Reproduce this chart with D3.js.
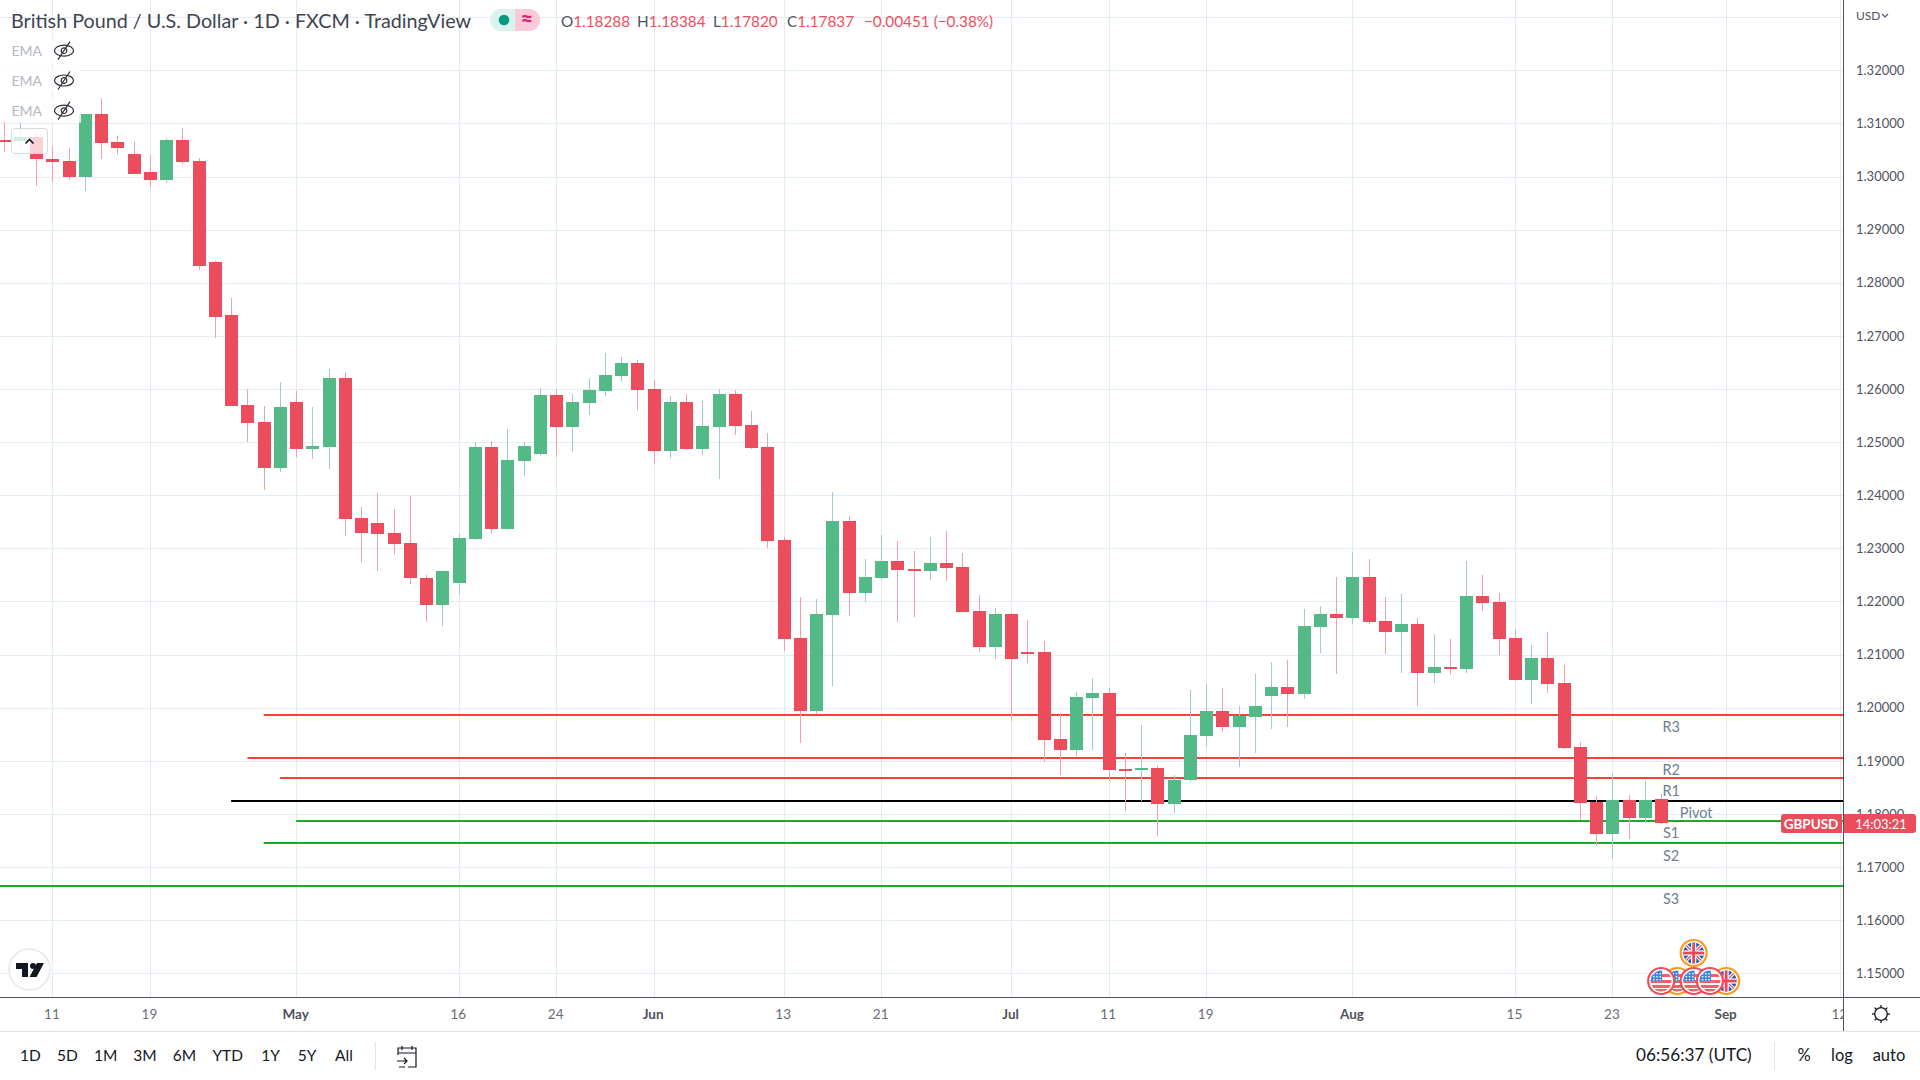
<!DOCTYPE html>
<html><head><meta charset="utf-8">
<style>html,body{margin:0;padding:0;background:#fff;overflow:hidden}svg{display:block}
text{font-family:Lato,"Open Sans",sans-serif}</style>
<script src="https://cdnjs.cloudflare.com/ajax/libs/d3/7.8.5/d3.min.js"></script></head><body>
<script>
const dates=["Apr 6","Apr 7","Apr 8","Apr 11","Apr 12","Apr 13","Apr 14","Apr 15","Apr 18","Apr 19","Apr 20","Apr 21","Apr 22","Apr 25","Apr 26","Apr 27","Apr 28","Apr 29",
"May 2","May 3","May 4","May 5","May 6","May 9","May 10","May 11","May 12","May 13","May 16","May 17","May 18","May 19","May 20","May 23","May 24","May 25","May 26","May 27","May 30","May 31",
"Jun 1","Jun 2","Jun 3","Jun 6","Jun 7","Jun 8","Jun 9","Jun 10","Jun 13","Jun 14","Jun 15","Jun 16","Jun 17","Jun 20","Jun 21","Jun 22","Jun 23","Jun 24","Jun 27","Jun 28","Jun 29","Jun 30",
"Jul 1","Jul 4","Jul 5","Jul 6","Jul 7","Jul 8","Jul 11","Jul 12","Jul 13","Jul 14","Jul 15","Jul 18","Jul 19","Jul 20","Jul 21","Jul 22","Jul 25","Jul 26","Jul 27","Jul 28","Jul 29",
"Aug 1","Aug 2","Aug 3","Aug 4","Aug 5","Aug 8","Aug 9","Aug 10","Aug 11","Aug 12","Aug 15","Aug 16","Aug 17","Aug 18","Aug 19","Aug 22","Aug 23","Aug 24","Aug 25","Aug 26"];
const opens=[1.30695,1.30669,1.30742,1.30325,1.30291,1.29987,1.31179,1.30649,1.30424,1.30080,1.29927,1.30682,1.30291,1.28384,1.27384,1.25702,1.25377,1.24510,
1.25755,1.24868,1.24907,1.26212,1.23570,1.23470,1.23285,1.23093,1.22450,1.21940,1.22346,1.23176,1.24912,1.23365,1.24648,1.24780,1.25893,1.25289,1.25742,1.25969,1.26252,1.26497,
1.26006,1.24836,1.25761,1.24874,1.25289,1.25912,1.25327,1.24912,1.23157,1.21308,1.19931,1.21742,1.23516,1.22157,1.22440,1.22761,1.22610,1.22572,1.22723,1.22648,1.21818,1.21138,
1.21760,1.21044,1.21044,1.19403,1.19195,1.20176,1.20270,1.18855,1.18818,1.18874,1.18195,1.18648,1.19459,1.19931,1.19629,1.19818,1.20214,1.20384,1.20252,1.21516,1.21761,
1.21686,1.22459,1.21629,1.21421,1.21572,1.20648,1.20761,1.20723,1.22100,1.21987,1.21308,1.20516,1.20931,1.20459,1.19252,1.18233,1.17629,1.18270,1.17931,1.18288];
const highs=[1.31080,1.31053,1.30834,1.30570,1.30536,1.31180,1.31477,1.30762,1.30649,1.30404,1.30722,1.30914,1.30344,1.28417,1.27722,1.26000,1.25682,1.26132,
1.25967,1.25662,1.26377,1.26325,1.23775,1.24040,1.23735,1.23980,1.22490,1.22583,1.23272,1.24987,1.25025,1.25252,1.25006,1.26025,1.26000,1.25912,1.26214,1.26686,1.26610,1.26553,
1.26176,1.25874,1.25912,1.25780,1.26000,1.25987,1.25591,1.25176,1.23214,1.22082,1.22044,1.24063,1.23610,1.22799,1.23252,1.23138,1.22950,1.23214,1.23327,1.22912,1.22119,1.21874,
1.21780,1.21648,1.21252,1.19893,1.20289,1.20553,1.20365,1.19138,1.19667,1.18912,1.18742,1.20327,1.20440,1.20365,1.20025,1.20629,1.20855,1.20893,1.21855,1.21912,1.22459,
1.22931,1.22799,1.22082,1.22138,1.21686,1.21384,1.21289,1.22761,1.22497,1.22157,1.21478,1.21176,1.21421,1.20799,1.19346,1.18346,1.18780,1.18365,1.18629,1.18384];
const lows=[1.30457,1.30517,1.29821,1.29894,1.29927,1.29728,1.30325,1.30424,1.30046,1.29795,1.29874,1.30232,1.28232,1.26967,1.25682,1.25000,1.24099,1.24437,
1.24722,1.24682,1.24490,1.23225,1.22735,1.22583,1.22887,1.22338,1.21623,1.21530,1.22132,1.23157,1.23290,1.23346,1.24365,1.24742,1.24723,1.24818,1.25516,1.25874,1.26138,1.25610,
1.24591,1.24704,1.24855,1.24761,1.24308,1.25138,1.24874,1.23006,1.21063,1.19327,1.19874,1.20403,1.21723,1.21987,1.22403,1.21610,1.21704,1.22403,1.22384,1.21799,1.21044,1.20912,
1.19742,1.20836,1.18975,1.18742,1.19082,1.19195,1.18629,1.18063,1.18252,1.17591,1.18025,1.18610,1.19252,1.19535,1.18893,1.19138,1.19591,1.19629,1.20157,1.21025,1.20629,
1.21572,1.21572,1.21006,1.20648,1.20025,1.20459,1.20629,1.20648,1.21818,1.20987,1.20497,1.20063,1.20270,1.19214,1.17893,1.17403,1.17157,1.17535,1.17836,1.17820];
const closes=[1.30669,1.30740,1.30325,1.30272,1.29987,1.31179,1.30629,1.30536,1.30053,1.29927,1.30682,1.30272,1.28311,1.27364,1.25682,1.25358,1.24510,1.25662,
1.24868,1.24927,1.26212,1.23550,1.23285,1.23265,1.23080,1.22437,1.21940,1.22583,1.23195,1.24912,1.23365,1.24667,1.24931,1.25893,1.25289,1.25761,1.25987,1.26270,1.26497,1.25987,
1.24836,1.25761,1.24874,1.25308,1.25912,1.25308,1.24893,1.23138,1.21289,1.19931,1.21760,1.23516,1.22157,1.22459,1.22761,1.22591,1.22572,1.22723,1.22629,1.21799,1.21138,1.21760,
1.20912,1.21025,1.19384,1.19195,1.20195,1.20270,1.18836,1.18818,1.18874,1.18195,1.18648,1.19478,1.19931,1.19629,1.19836,1.20025,1.20384,1.20252,1.21535,1.21761,1.21686,
1.22459,1.21610,1.21421,1.21572,1.20648,1.20761,1.20723,1.22100,1.21969,1.21289,1.20516,1.20931,1.20440,1.19233,1.18214,1.17629,1.18270,1.17931,1.18270,1.17837];
const priceTicks=[1.15,1.16,1.17,1.18,1.19,1.20,1.21,1.22,1.23,1.24,1.25,1.26,1.27,1.28,1.29,1.30,1.31,1.32];
const priceGridExtra=[1.33];
const timeTickIdx=[3,9,18,28,34,40,48,54,62,68,74,83,93,99,106,113];
const timeTickLabels=["11","19","May","16","24","Jun","13","21","Jul","11","19","Aug","15","23","Sep","12"];
const monthLabels=["May","Jun","Jul","Aug","Sep"];
const levelNames=["R3","R2","R1","Pivot","S1","S2","S3"];
const levelValues=[1.19863,1.19053,1.18676,1.18244,1.17867,1.17453,1.16643];
const levelStartIdx=[16,15,17,14,18,16,-1];
const rangeButtons=["1D","5D","1M","3M","6M","YTD","1Y","5Y","All"];
const eventIdxRow1=[104];
const eventFlagRow1=["uk"];
const eventRingRow1=["orange"];
const eventIdxRow2=[102,103,104,105,106];
const eventFlagRow2=["us","us","us","us","uk"];
const eventRingRow2=["red","orange","red","red","orange"];

const W=1920,H=1080,axisX=1843,axisY=997,timeBottom=1031;
const GRID="#e3ecf2",UP="#53b987",DOWN="#eb4d5c",UPW="#a3c9cc",DOWNW="#f59fae";
const x=d3.scaleLinear().domain([3,99]).range([52.4,1612.4]);
const y=d3.scaleLinear().domain([1.15,1.32]).range([973.3,70.3]);
const px=v=>Math.round(v);
const svg=d3.select("body").append("svg").attr("width",W).attr("height",H);
svg.append("defs").append("clipPath").attr("id","pane").append("rect").attr("width",axisX).attr("height",axisY);
const pane=svg.append("g").attr("clip-path","url(#pane)");
const candlesData=dates.map((d,i)=>({d,i,o:opens[i],h:highs[i],l:lows[i],c:closes[i]}));

// grid
pane.append("g").selectAll("line").data(priceTicks.concat(priceGridExtra)).join("line")
 .attr("x1",0).attr("x2",axisX).attr("y1",d=>px(y(d))+.5).attr("y2",d=>px(y(d))+.5).attr("stroke",GRID);
pane.append("g").selectAll("line").data(timeTickIdx).join("line")
 .attr("x1",d=>px(x(d))+.5).attr("x2",d=>px(x(d))+.5).attr("y1",0).attr("y2",axisY).attr("stroke",GRID);

// pivot levels
const levelColor=n=>n[0]=="R"?"#f44336":n[0]=="S"?"#1aab2b":"#000";
pane.append("g").selectAll("line").data(levelNames).join("line")
 .attr("x1",(d,i)=>levelStartIdx[i]<0?0:x(levelStartIdx[i])).attr("x2",axisX)
 .attr("y1",(d,i)=>px(y(levelValues[i]))).attr("y2",(d,i)=>px(y(levelValues[i])))
 .attr("stroke",levelColor).attr("stroke-width",2);

// candles
const cg=pane.append("g").attr("shape-rendering","crispEdges");
cg.selectAll(".wick").data(candlesData).join("line").attr("class","wick")
 .attr("x1",d=>px(x(d.i))+.5).attr("x2",d=>px(x(d.i))+.5).attr("y1",d=>y(d.h)).attr("y2",d=>y(d.l))
 .attr("stroke",d=>d.c>=d.o?UPW:DOWNW);
cg.selectAll(".body").data(candlesData).join("rect").attr("class","body")
 .attr("x",d=>px(x(d.i))-6).attr("width",13)
 .attr("y",d=>px(y(Math.max(d.o,d.c))))
 .attr("height",d=>Math.max(2,px(y(Math.min(d.o,d.c)))-px(y(Math.max(d.o,d.c)))))
 .attr("fill",d=>d.c>=d.o?UP:DOWN);

// level labels
pane.append("g").selectAll("text").data(levelNames).join("text")
 .attr("x",d=>d=="Pivot"?x(102)+35:x(102)+10)
 .attr("text-anchor","middle")
 .attr("y",(d,i)=>y(levelValues[i])+(d=="S2"||d=="S3"?18:d=="S1"?17:d=="Pivot"?17:d=="R1"?17.5:16.7))
 .attr("fill","#6f808f").attr("font-size",14.5).text(d=>d);

// events
function flag(g,kind,ring,cx,cy,r,uid){
 const id="f"+uid;
 g.append("circle").attr("cx",cx).attr("cy",cy).attr("r",r-.5).attr("fill","#fff");
 g.append("clipPath").attr("id",id).append("circle").attr("cx",cx).attr("cy",cy).attr("r",r-3.5);
 const f=g.append("g").attr("clip-path",`url(#${id})`);
 if(kind=="us"){
  f.append("rect").attr("x",cx-r).attr("y",cy-r).attr("width",2*r).attr("height",2*r).attr("fill","#fff");
  [-7,-1,4,8].forEach(o=>f.append("rect").attr("x",cx-r).attr("y",cy+o).attr("width",2*r).attr("height",3).attr("fill","#f2606c"));
  f.append("rect").attr("x",cx-r).attr("y",cy-r).attr("width",r+1).attr("height",r).attr("fill","#3d86e0");
  d3.range(3).forEach(a=>d3.range(3).forEach(b=>f.append("rect").attr("x",cx-8+a*3.2).attr("y",cy-8+b*3).attr("width",1.4).attr("height",1.4).attr("fill","#fff")));
 }else{
  f.append("rect").attr("x",cx-r).attr("y",cy-r).attr("width",2*r).attr("height",2*r).attr("fill","#2a5aa8");
  [[-r,-r,r,r],[-r,r,r,-r]].forEach(a=>{f.append("line").attr("x1",cx+a[0]).attr("y1",cy+a[1]).attr("x2",cx+a[2]).attr("y2",cy+a[3]).attr("stroke","#fff").attr("stroke-width",3.5);
   f.append("line").attr("x1",cx+a[0]).attr("y1",cy+a[1]).attr("x2",cx+a[2]).attr("y2",cy+a[3]).attr("stroke","#e2495a").attr("stroke-width",1.3);});
  f.append("rect").attr("x",cx-2.6).attr("y",cy-r).attr("width",5.2).attr("height",2*r).attr("fill","#fff");
  f.append("rect").attr("x",cx-r).attr("y",cy-2.6).attr("width",2*r).attr("height",5.2).attr("fill","#fff");
  f.append("rect").attr("x",cx-1.4).attr("y",cy-r).attr("width",2.8).attr("height",2*r).attr("fill","#e2495a");
  f.append("rect").attr("x",cx-r).attr("y",cy-1.4).attr("width",2*r).attr("height",2.8).attr("fill","#e2495a");
 }
 g.append("circle").attr("cx",cx).attr("cy",cy).attr("r",r-1).attr("fill","none").attr("stroke",ring=="red"?"#ef4d5e":"#ff9a1f").attr("stroke-width",2.2);
}
const ev=pane.append("g");
eventIdxRow1.forEach((d,i)=>flag(ev,eventFlagRow1[i],eventRingRow1[i],x(d),953,14,"a"+i));
[4,1,2,3,0].forEach(j=>flag(ev,eventFlagRow2[j],eventRingRow2[j],x(eventIdxRow2[j]),981,14,"b"+j));

// right/bottom panel
svg.append("rect").attr("x",axisX).attr("y",0).attr("width",W-axisX).attr("height",timeBottom).attr("fill","#fff");
svg.append("rect").attr("x",0).attr("y",timeBottom).attr("width",W).attr("height",H-timeBottom).attr("fill","#fff");

// time axis
svg.append("clipPath").attr("id","tc").append("rect").attr("x",0).attr("y",axisY).attr("width",axisX).attr("height",40);
const xAxis=d3.axisBottom(x).tickValues(timeTickIdx).tickSize(0).tickPadding(12).tickFormat((d,i)=>timeTickLabels[i]);
const xg=svg.append("g").attr("clip-path","url(#tc)").append("g").attr("transform",`translate(-1,${axisY})`).call(xAxis);
xg.select(".domain").remove();
xg.selectAll("text").attr("font-family","Lato").attr("font-size",13.5).attr("fill",(d,i)=>monthLabels.includes(timeTickLabels[i])?"#50535e":"#6a6d78").attr("font-weight",(d,i)=>monthLabels.includes(timeTickLabels[i])?700:400).attr("dy","0.72em");

// price axis
const yAxis=d3.axisRight(y).tickValues(priceTicks).tickSize(0).tickPadding(0).tickFormat(d3.format(".5f"));
const yg=svg.append("g").attr("transform",`translate(${axisX+13},0)`).call(yAxis);
yg.select(".domain").remove();
yg.selectAll("text").attr("font-family","'Liberation Sans'").attr("font-size",13).attr("fill","#50535e");

// borders
svg.append("line").attr("x1",0).attr("x2",W).attr("y1",axisY+.5).attr("y2",axisY+.5).attr("stroke","#50535e");
svg.append("line").attr("x1",axisX+.5).attr("x2",axisX+.5).attr("y1",0).attr("y2",timeBottom).attr("stroke","#50535e");
svg.append("line").attr("x1",0).attr("x2",W).attr("y1",timeBottom+.5).attr("y2",timeBottom+.5).attr("stroke","#e0e3eb");

// last price label
svg.append("path").attr("d",`M1784 814h58v19h-58a3 3 0 0 1-3-3v-13a3 3 0 0 1 3-3z`).attr("fill",DOWN);
svg.append("path").attr("d",`M1844 814h69a3 3 0 0 1 3 3v13a3 3 0 0 1-3 3h-69z`).attr("fill",DOWN);
svg.append("text").attr("x",1811).attr("y",828.5).attr("text-anchor","middle").attr("fill","#fff").attr("font-size",13.5).attr("font-weight",700).text("GBPUSD");
svg.append("text").attr("x",1881).attr("y",828.5).attr("text-anchor","middle").attr("fill","#fff").attr("font-size",13).attr("font-family","'Liberation Sans'").text("14:03:21");

// USD
svg.append("text").attr("x",1856).attr("y",20).attr("fill","#50535e").attr("font-size",12).attr("font-family","'Liberation Sans'").text("USD");
svg.append("path").attr("d","M1882 14l3 3l3-3").attr("fill","none").attr("stroke","#50535e").attr("stroke-width",1.2);

// header
const hdr=svg.append("g");
hdr.append("text").attr("x",11).attr("y",27.5).attr("fill","#3f4450").attr("font-size",18.6).attr("textLength",460).attr("lengthAdjust","spacingAndGlyphs").text("British Pound / U.S. Dollar · 1D · FXCM · TradingView");
hdr.append("path").attr("d","M515 9h-14a11 11 0 0 0 0 22h14z").attr("fill","#dcf2ee");
hdr.append("path").attr("d","M515 9h14a11 11 0 0 1 0 22h-14z").attr("fill","#fcc9d9");
hdr.append("circle").attr("cx",504).attr("cy",20).attr("r",5.3).attr("fill","#089981");
hdr.append("text").attr("x",527).attr("y",27).attr("text-anchor","middle").attr("font-size",22).attr("font-weight",700).attr("fill","#cf2a6b").text("≈");
const ohlc=[["O","1.18288"],["H","1.18384"],["L","1.17820"],["C","1.17837"]];
const ohlcX=[561,637,713,787];
ohlc.forEach((p,i)=>{const t=hdr.append("text").attr("x",ohlcX[i]).attr("y",26.5).attr("font-size",15.3);
 t.append("tspan").attr("fill","#50535e").text(p[0]);t.append("tspan").attr("fill","#ee4f5f").text(p[1]);});
hdr.append("text").attr("x",864).attr("y",26.5).attr("font-size",15.3).attr("fill","#ee4f5f").text("−0.00451 (−0.38%)");

// EMA legend
[50.7,80.5,110.7].forEach(cy=>{
 hdr.append("rect").attr("x",0).attr("y",cy-12).attr("width",81).attr("height",24).attr("fill","rgba(255,255,255,.8)");
 hdr.append("text").attr("x",11.5).attr("y",cy+5).attr("font-size",14).attr("fill","#b5b8c2").text("EMA");
 const e=hdr.append("g").attr("transform",`translate(64,${cy})`).attr("fill","none").attr("stroke","#2e3038").attr("stroke-width",1.2);
 e.append("ellipse").attr("rx",9.5).attr("ry",5.5);e.append("circle").attr("r",2.8);
 e.append("line").attr("x1",-6).attr("y1",9).attr("x2",6).attr("y2",-9);
});
hdr.append("rect").attr("x",11.5).attr("y",128.5).attr("width",36).attr("height",25).attr("rx",3).attr("fill","rgba(255,255,255,.75)").attr("stroke","#d6d9e2");
hdr.append("path").attr("d","M25.5 143.5l4-4l4 4").attr("fill","none").attr("stroke","#131722").attr("stroke-width",1.6);

// TV logo
const tv=svg.append("g");
tv.append("circle").attr("cx",29.5).attr("cy",969.5).attr("r",20.5).attr("fill","#fff").attr("stroke","#e6e8ee").attr("stroke-width",1.5);
tv.append("path").attr("d","M16 963h12v14h-6v-8h-6zM37 963h7l-7.5 14h-7z").attr("fill","#131722");
tv.append("circle").attr("cx",33).attr("cy",966).attr("r",3).attr("fill","#131722");

// gear
const gear=svg.append("g").attr("transform","translate(1881,1014)").attr("fill","none").attr("stroke","#131722").attr("stroke-width",1.3);
gear.append("circle").attr("r",6.3);
d3.range(8).forEach(k=>gear.append("line").attr("x1",6.3).attr("x2",9).attr("transform",`rotate(${k*45})`));

// bottom bar
const rangeX=[30.4,67.4,105.8,145,184.4,227.7,270.5,307,344];
svg.append("g").selectAll("text").data(rangeButtons).join("text").attr("x",(d,i)=>rangeX[i]).attr("y",1061).attr("text-anchor","middle").attr("font-size",15.5).attr("fill","#131722").text(d=>d);
svg.append("line").attr("x1",375.5).attr("x2",375.5).attr("y1",1042).attr("y2",1070).attr("stroke","#e0e3eb");
const cal=svg.append("g").attr("transform","translate(397,1045)").attr("fill","none").attr("stroke","#131722").attr("stroke-width",1.2);
cal.append("path").attr("d","M1 10V3h18v19h-8M1 8h18M5 1v4M15 1v4M0 16h10M7 13l3 3l-3 3M2 22h6");
svg.append("text").attr("x",1636).attr("y",1061).attr("font-size",17.2).attr("fill","#131722").text("06:56:37 (UTC)");
svg.append("line").attr("x1",1774.5).attr("x2",1774.5).attr("y1",1042).attr("y2",1070).attr("stroke","#e0e3eb");
[["%",1804],["log",1842],["auto",1889]].forEach(p=>svg.append("text").attr("x",p[1]).attr("y",1061).attr("text-anchor","middle").attr("font-size",16.5).attr("fill","#131722").text(p[0]));
</script></body></html>
